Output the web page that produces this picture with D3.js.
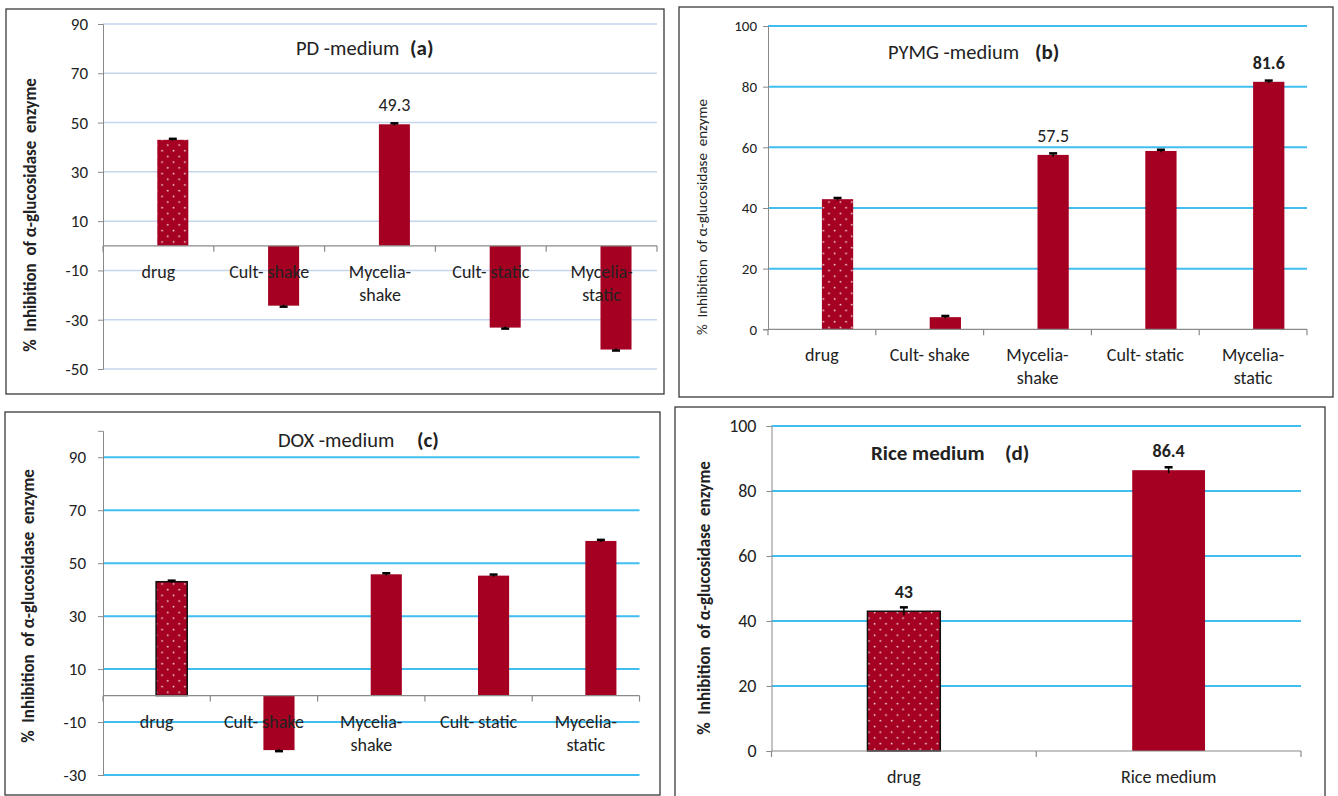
<!DOCTYPE html>
<html lang="en">
<head>
    <meta charset="UTF-8">
    <title>alpha-glucosidase inhibition</title>
    <script src="https://cdn.jsdelivr.net/npm/d3@7/dist/d3.min.js"></script>
    <style>
        body { margin: 0; background: #fff; }
        text { font-family: Carlito, Roboto, "Liberation Sans", sans-serif; fill: #222; }
    </style>
</head>
<body>

<script>

    // ---- data ----
    var fiveCats = ["drug", "Cult- shake", "Mycelia-\nshake", "Cult- static", "Mycelia-\nstatic"]

    var pdValues = [43, -24.3, 49.3, -33.2, -42.1]
    var pdErrors = [0.4, 0.4, 0.4, 0.4, 0.4]
    var pdShown = [2]

    var pymgValues = [42.9, 4, 57.5, 58.8, 81.6]
    var pymgErrors = [0.4, 0.4, 0.5, 0.4, 0.4]
    var pymgShown = [2, 4]

    var doxValues = [43, -20.6, 45.8, 45.3, 58.4]
    var doxErrors = [0.4, 0.4, 0.4, 0.4, 0.4]
    var doxShown = []

    var riceCats = ["drug", "Rice medium"]
    var riceValues = [43, 86.4]
    var riceErrors = [1.2, 0.9]
    var riceShown = [0, 1]

    var pdTicks = [-50, -30, -10, 10, 30, 50, 70, 90]
    var pymgTicks = [0, 20, 40, 60, 80, 100]
    var doxTicks = [-30, -10, 10, 30, 50, 70, 90]
    var riceTicks = [0, 20, 40, 60, 80, 100]

    var yTitle = "%  Inhibition  of α-glucosidase  enzyme"

    var barColor = "#a50021"

    var width = 1338, height = 796

    var svg = d3.select("body").append("svg")
        .attr("width", width)
        .attr("height", height)

    svg.append("rect").attr("width", width).attr("height", height).attr("fill", "white")

    // dotted fill used for the "drug" bars
    var pat = svg.append("defs").append("pattern")
        .attr("id", "dots")
        .attr("patternUnits", "userSpaceOnUse")
        .attr("width", 11.4)
        .attr("height", 11.4)
    pat.append("rect").attr("width", 11.4).attr("height", 11.4).attr("fill", barColor)
    pat.append("circle").attr("cx", 2.5).attr("cy", 2.5).attr("r", 0.9).attr("fill", "#f6dce0")
    pat.append("circle").attr("cx", 8.2).attr("cy", 8.2).attr("r", 0.9).attr("fill", "#f6dce0")

    function drawPanel(p) {
        var g = svg.append("g")

        g.append("rect")
            .attr("x", p.frame[0]).attr("y", p.frame[1])
            .attr("width", p.frame[2]).attr("height", p.frame[3])
            .attr("fill", "none")
            .attr("stroke", "#3a3a3a")
            .attr("stroke-width", 1.3)

        var yScale = d3.scaleLinear().domain(p.domain).range([p.yBottom, p.yTop])
        var xScale = d3.scaleBand().domain(d3.range(p.cats.length)).range([p.x0, p.x1])
        var bw = xScale.bandwidth()
        var y0 = yScale(0)

        // grid lines
        g.append("g")
            .selectAll("line")
            .data(p.ticks.filter(function (t) { return t !== 0 }))
            .enter().append("line")
            .attr("x1", p.x0).attr("x2", p.x1)
            .attr("y1", function (d) { return yScale(d) })
            .attr("y2", function (d) { return yScale(d) })
            .attr("stroke", p.gridColor)
            .attr("stroke-width", p.gridWidth)

        // y axis
        var yAxis = g.append("g")
            .attr("transform", "translate(" + p.x0 + ",0)")
            .call(d3.axisLeft(yScale).tickValues(p.ticks).tickSize(5).tickPadding(p.tickPad))
        yAxis.select(".domain").attr("stroke", "#8a8a8a")
        yAxis.selectAll(".tick line").attr("stroke", "#8a8a8a")
        yAxis.selectAll("text")
            .attr("font-size", p.tickFont + "px")
            .attr("fill", "#333")
            .style("font-family", "Carlito, Roboto, sans-serif")
            .text(function (d) { return String(d) })

        // bars
        var bars = g.append("g")
        p.values.forEach(function (v, i) {
            var cx = xScale(i) + bw / 2 + bw * p.offset
            var w = bw * p.barFrac
            bars.append("rect")
                .attr("x", cx - w / 2)
                .attr("y", Math.min(yScale(v), y0))
                .attr("width", w)
                .attr("height", Math.abs(yScale(v) - y0))
                .attr("fill", i === 0 ? "url(#dots)" : barColor)
                .attr("stroke", i === 0 && p.outline ? "#111" : "none")
                .attr("stroke-width", 1.5)

            // error bar at the tip of the bar
            var e = p.errors[i]
            var lo = yScale(v - e), hi = yScale(v + e)
            bars.append("line")
                .attr("x1", cx).attr("x2", cx).attr("y1", lo).attr("y2", hi)
                .attr("stroke", "black").attr("stroke-width", 1.5)
            var capY = v >= 0 ? hi : lo
            bars.append("line")
                .attr("x1", cx - 4).attr("x2", cx + 4).attr("y1", capY).attr("y2", capY)
                .attr("stroke", "black").attr("stroke-width", 2.5)

            if (p.shown.indexOf(i) >= 0) {
                g.append("text")
                    .attr("x", cx)
                    .attr("y", yScale(v) - 13)
                    .attr("text-anchor", "middle")
                    .attr("font-size", "18px")
                    .attr("font-weight", p.labelBold.indexOf(i) >= 0 ? "bold" : "normal")
                    .text(v)
            }
        })

        // zero line with category ticks
        g.append("line")
            .attr("x1", p.x0).attr("x2", p.x1).attr("y1", y0).attr("y2", y0)
            .attr("stroke", "#8a8a8a").attr("stroke-width", 1.2)
        g.append("g").selectAll("line")
            .data(d3.range(p.cats.length + 1))
            .enter().append("line")
            .attr("x1", function (i) { return p.x0 + i * bw })
            .attr("x2", function (i) { return p.x0 + i * bw })
            .attr("y1", y0).attr("y2", y0 + 6)
            .attr("stroke", "#8a8a8a").attr("stroke-width", 1.2)

        // category labels
        p.cats.forEach(function (c, i) {
            var t = g.append("text")
                .attr("x", xScale(i) + bw / 2)
                .attr("y", y0 + 32)
                .attr("text-anchor", "middle")
                .attr("font-size", "18px")
            c.split("\n").forEach(function (line, k) {
                t.append("tspan")
                    .attr("x", xScale(i) + bw / 2)
                    .attr("dy", k === 0 ? 0 : 23)
                    .text(line)
            })
        })

        // title
        g.append("text")
            .attr("x", p.title[0]).attr("y", p.title[1])
            .attr("font-size", p.titleBold ? "21px" : "20.5px")
            .attr("font-weight", p.titleBold ? "bold" : "normal")
            .text(p.titleText)
        g.append("text")
            .attr("x", p.title[2]).attr("y", p.title[1])
            .attr("font-size", "21px")
            .attr("font-weight", "bold")
            .text(p.tag)

        // y axis title
        g.append("text")
            .attr("transform", "translate(" + p.yTitle[0] + "," + p.yTitle[1] + ") rotate(-90)")
            .attr("text-anchor", "middle")
            .attr("font-size", p.yTitleBold ? "17px" : "15px")
            .attr("font-weight", p.yTitleBold ? "bold" : "normal")
            .style("white-space", "pre")
            .text(yTitle)
    }

    drawPanel({
        cats: fiveCats, values: pdValues, errors: pdErrors, shown: pdShown, labelBold: [],
        ticks: pdTicks, domain: [-50, 90],
        frame: [6, 9, 658, 385],
        x0: 103, x1: 657, yTop: 24, yBottom: 369,
        gridColor: "#c6d5ee", gridWidth: 1.5,
        tickFont: 17, tickPad: 10,
        barFrac: 0.28, offset: 0.13, outline: false,
        titleText: "PD -medium", tag: "(a)", titleBold: false, title: [296, 55, 410],
        yTitle: [36, 215], yTitleBold: true
    })

    drawPanel({
        cats: fiveCats, values: pymgValues, errors: pymgErrors, shown: pymgShown, labelBold: [4],
        ticks: pymgTicks, domain: [0, 100],
        frame: [679, 7, 654, 390],
        x0: 768, x1: 1307, yTop: 26, yBottom: 329.3,
        gridColor: "#41bdf0", gridWidth: 2,
        tickFont: 15, tickPad: 6,
        barFrac: 0.29, offset: 0.145, outline: false,
        titleText: "PYMG -medium", tag: "(b)", titleBold: false, title: [888, 59, 1035],
        yTitle: [707, 217], yTitleBold: false
    })

    drawPanel({
        cats: fiveCats, values: doxValues, errors: doxErrors, shown: doxShown, labelBold: [],
        ticks: doxTicks, domain: [-30, 100],
        frame: [5, 412, 655, 383],
        x0: 103, x1: 639.5, yTop: 430.8, yBottom: 775,
        gridColor: "#41bdf0", gridWidth: 2,
        tickFont: 17, tickPad: 12,
        barFrac: 0.29, offset: 0.14, outline: true,
        titleText: "DOX -medium", tag: "(c)", titleBold: false, title: [278, 447, 417],
        yTitle: [34, 606], yTitleBold: true
    })

    drawPanel({
        cats: riceCats, values: riceValues, errors: riceErrors, shown: riceShown, labelBold: [0, 1],
        ticks: riceTicks, domain: [0, 100],
        frame: [675, 407, 650, 395],
        x0: 771.5, x1: 1301, yTop: 426, yBottom: 751,
        gridColor: "#41bdf0", gridWidth: 2,
        tickFont: 18, tickPad: 10,
        barFrac: 0.275, offset: 0, outline: true,
        titleText: "Rice medium", tag: "(d)", titleBold: true, title: [871, 460, 1005],
        yTitle: [710, 598], yTitleBold: true
    })

</script>

</body>
</html>
